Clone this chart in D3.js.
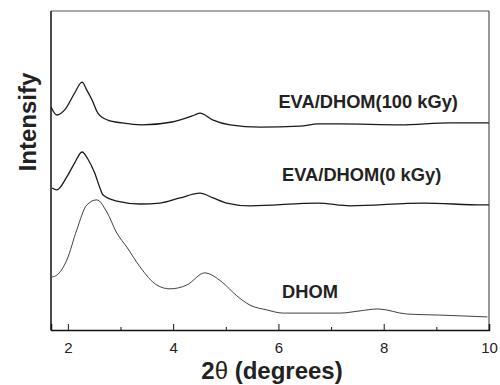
<!DOCTYPE html>
<html>
<head>
<meta charset="utf-8">
<script src="https://cdn.jsdelivr.net/npm/d3@7"></script>
<style>
  html, body { margin: 0; padding: 0; background: #fff; }
  svg { display: block; }
</style>
</head>
<body>
<div id="chart"></div>
<script>
// ---- Data (2θ in degrees, intensity in arbitrary units, curves offset vertically) ----
const xTicksMajor = [2, 4, 6, 8, 10];
const xTicksMinor = [3, 5, 7, 9];

const twoTheta100 = [1.68, 1.79, 1.94, 2.13, 2.27, 2.36, 2.46, 2.57, 2.76, 3.03, 3.41, 3.98, 4.41, 4.51, 4.76, 5.08, 5.65, 6.41, 6.75, 7.17, 8.31, 9.26, 10.0];
const int100      = [69.9, 67.4, 69.0, 74.3, 77.7, 75.2, 72.1, 68.0, 65.8, 64.9, 64.3, 65.2, 67.4, 68.0, 65.8, 64.3, 63.6, 63.9, 64.6, 64.6, 64.3, 64.9, 64.9];

const twoTheta0 = [1.70, 1.79, 1.98, 2.13, 2.27, 2.38, 2.51, 2.61, 2.67, 2.93, 3.37, 3.75, 4.13, 4.51, 4.76, 5.02, 5.46, 6.75, 7.36, 8.75, 9.89, 10.0];
const int0      = [44.5, 43.9, 48.0, 52.4, 55.8, 53.6, 49.2, 44.5, 42.3, 40.4, 39.5, 39.8, 41.4, 42.9, 41.4, 39.8, 38.9, 39.8, 38.9, 39.8, 39.2, 39.2];

const twoThetaDHOM = [1.70, 1.79, 1.98, 2.17, 2.36, 2.55, 2.74, 2.93, 3.12, 3.37, 3.69, 3.94, 4.26, 4.60, 4.93, 5.21, 5.46, 5.78, 6.09, 6.66, 7.17, 7.55, 7.89, 8.44, 9.02, 9.51, 9.97];
const intDHOM      = [16.6, 17.2, 21.9, 31.4, 39.2, 40.8, 37.0, 30.4, 26.0, 19.8, 14.1, 12.9, 14.1, 17.9, 15.0, 10.7, 7.8, 6.3, 5.3, 5.3, 5.3, 6.0, 6.6, 5.0, 4.7, 4.4, 4.1];

const seriesNames = ["EVA/DHOM(100 kGy)", "EVA/DHOM(0 kGy)", "DHOM"];
const xTitleParts = ["2", "θ", " (degrees)"];
const yTitle = "Intensify";

// ---- Layout ----
const W = 500, H = 385;
const m = { left: 51, right: 11, top: 11, bottom: 55 };
const FONT = "Liberation Sans, Arial, sans-serif";

const svg = d3.select("#chart").append("svg").attr("width", W).attr("height", H);

const x = d3.scaleLinear().domain([1.68, 10]).range([m.left, W - m.right]);
const y = d3.scaleLinear().domain([0, 100]).range([H - m.bottom, m.top]);

const series = [
  { name: seriesNames[0], xs: twoTheta100, ys: int100, w: 1.3, c: "#1a1a1a" },
  { name: seriesNames[1], xs: twoTheta0, ys: int0, w: 1.3, c: "#1a1a1a" },
  { name: seriesNames[2], xs: twoThetaDHOM, ys: intDHOM, w: 0.9, c: "#2a2a2a" }
];

const line = d3.line().x(d => x(d[0])).y(d => y(d[1])).curve(d3.curveMonotoneX);

series.forEach(s => {
  svg.append("path")
    .datum(d3.zip(s.xs, s.ys))
    .attr("fill", "none")
    .attr("stroke", s.c)
    .attr("stroke-width", s.w)
    .attr("stroke-linejoin", "round")
    .attr("d", line);
});

// Frame
const x0 = x.range()[0], x1 = x.range()[1], y0 = y.range()[0], y1 = y.range()[1];
svg.append("line").attr("x1", x0).attr("x2", x1).attr("y1", y1).attr("y2", y1).attr("stroke", "#555").attr("stroke-width", 1);
svg.append("line").attr("x1", x1).attr("x2", x1).attr("y1", y1).attr("y2", y0).attr("stroke", "#333").attr("stroke-width", 1);
svg.append("line").attr("x1", x0).attr("x2", x0).attr("y1", y1).attr("y2", y0).attr("stroke", "#111").attr("stroke-width", 1.5);

// X axis with inward ticks
const xAxis = d3.axisBottom(x).tickValues(xTicksMajor).tickSize(-6).tickPadding(12).tickFormat(d3.format("d"));
const gx = svg.append("g").attr("transform", `translate(0,${y0})`).call(xAxis);
gx.select(".domain").attr("stroke", "#111").attr("stroke-width", 1.5);
gx.selectAll(".tick line").attr("stroke", "#111");
gx.selectAll(".tick text").attr("font-family", FONT).attr("font-size", 15).attr("fill", "#222");
const gxm = svg.append("g").attr("transform", `translate(0,${y0})`)
  .call(d3.axisBottom(x).tickValues(xTicksMinor).tickSize(-3).tickFormat(""));
gxm.select(".domain").remove();
gxm.selectAll(".tick line").attr("stroke", "#111");

// Series labels
const labels = [
  { t: seriesNames[0], x: 6.0, y: 69.6 },
  { t: seriesNames[1], x: 6.07, y: 46.6 },
  { t: seriesNames[2], x: 6.07, y: 10.0 }
];
svg.selectAll("text.lab").data(labels).enter().append("text")
  .attr("class", "lab")
  .attr("x", d => x(d.x)).attr("y", d => y(d.y))
  .attr("font-family", FONT)
  .attr("font-weight", "bold").attr("font-size", 18.3).attr("fill", "#222")
  .text(d => d.t);

// Axis titles
const xt = svg.append("text")
  .attr("x", 272).attr("y", 379).attr("text-anchor", "middle")
  .attr("font-family", FONT)
  .attr("font-weight", "bold").attr("font-size", 24).attr("fill", "#222");
xt.append("tspan").text(xTitleParts[0]);
xt.append("tspan").attr("font-weight", "normal").text(xTitleParts[1]);
xt.append("tspan").text(xTitleParts[2]);

svg.append("text")
  .attr("transform", "translate(36,122) rotate(-90)").attr("text-anchor", "middle")
  .attr("font-family", FONT)
  .attr("font-weight", "bold").attr("font-size", 24).attr("fill", "#222")
  .text(yTitle);
</script>
</body>
</html>
